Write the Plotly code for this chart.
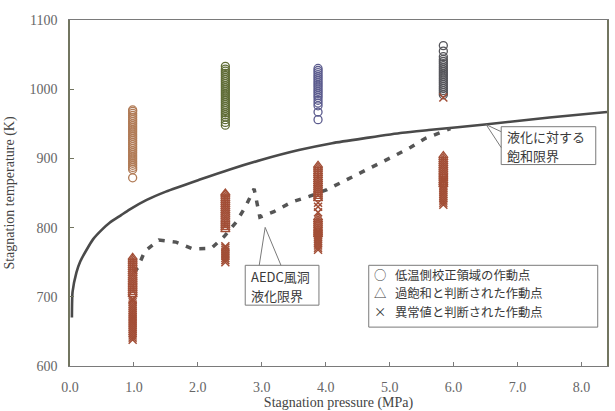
import plotly.graph_objects as go

# ---- data ---------------------------------------------------------------
# saturation limit against liquefaction (solid curve)
sat_p = [0.03, 0.04, 0.10, 0.16, 0.26, 0.36, 0.50, 0.62, 0.80, 0.93, 1.20,
         1.50, 2.02, 2.50, 3.00, 3.58, 4.10, 4.67, 5.20, 5.61, 6.49, 7.50, 8.40]
sat_t = [670, 707, 735, 751, 768, 783, 797, 807, 818, 826, 840,
         852, 869, 884, 898, 912, 922, 930, 937, 941, 949, 959, 967]

# AEDC wind tunnel liquefaction limit (dashed curve)
aedc_p = [1.00, 1.06, 1.17, 1.39, 1.66, 1.93, 2.21, 2.41, 2.60, 2.75, 2.88,
          2.92, 2.97, 3.19, 3.47, 3.74, 4.02, 4.28, 4.55, 4.80, 5.06, 5.33,
          5.56, 5.95]
aedc_t = [735, 742, 766, 782, 779, 769, 770, 787, 808, 831, 856,
          840, 815, 823, 837, 845, 855, 867, 880, 891, 903, 916,
          929, 943]

# stagnation pressure of each run group (MPa)
group_p = [0.98, 2.43, 3.88, 5.84]

# operating points in the low-temperature calibration region (K)
calib_t = [
    [872, 884, 887, 890, 893, 896, 899, 902, 905, 908, 911, 914, 917, 920,
     923, 926, 929, 932, 935, 938, 941, 944, 947, 950, 953, 956, 959, 962,
     965, 968, 970],
    [948, 952, 956, 960, 963, 966, 969, 972, 975, 978, 981, 984, 987, 990,
     993, 996, 999, 1002, 1005, 1008, 1011, 1014, 1017, 1020, 1023, 1026,
     1029, 1033],
    [956, 967, 976, 980, 984, 988, 991, 994, 997, 1000, 1003, 1006, 1009,
     1012, 1015, 1018, 1021, 1024, 1027, 1030],
    [992, 995, 998, 1001, 1004, 1007, 1010, 1013, 1016, 1019, 1022, 1025,
     1028, 1031, 1034, 1037, 1040, 1043, 1047, 1055, 1063],
]

# operating points judged supersaturated (K)
supersat_t = [
    [703, 706, 709, 712, 715, 718, 721, 724, 727, 730, 733, 736, 739, 742,
     745, 748, 751, 754, 757],
    [797, 800, 803, 806, 809, 812, 815, 818, 821, 824, 827, 830, 833, 836,
     839, 842, 845, 848, 850],
    [790, 793, 796, 799, 802, 805, 808, 811, 814, 842, 845, 848, 851, 854,
     857, 860, 863, 866, 869, 872, 875, 878, 881, 884, 887, 890],
    [862, 865, 868, 871, 874, 877, 880, 883, 886, 889, 892, 895, 898, 901,
     904],
]

# operating points judged abnormal (K)
outlier_t = [
    [638, 641, 644, 647, 650, 653, 656, 659, 662, 665, 668, 671, 674, 677,
     680, 683, 686, 689, 692, 695, 697],
    [750, 753, 756, 759, 762, 765, 768, 771, 773],
    [768, 771, 774, 777, 780, 783, 786, 789, 792, 795, 822, 830, 836],
    [833, 836, 839, 842, 845, 848, 851, 854, 857, 860, 864, 867, 870, 988],
]

legend_labels = ["低温側校正領域の作動点", "過飽和と判断された作動点",
                 "異常値と判断された作動点"]
legend_symbols = ["○", "△", "×"]
sat_label = ["液化に対する", "飽和限界"]
aedc_label = ["AEDC風洞", "液化限界"]

# ---- styling ------------------------------------------------------------
calib_colors = ["#b07a55", "#5f6c36", "#5c5c8e", "#55555a"]
brown = "#a24e36"
box_line = "#7a7a7a"
text_col = "#3a3a3a"
jp_font = "Noto Sans CJK JP"
serif = "Liberation Serif"

fig = go.Figure()

fig.add_trace(go.Scatter(
    x=sat_p, y=sat_t, mode="lines", line=dict(color="#4a4a4a", width=2.6,
                                              shape="spline", smoothing=0.6),
    hoverinfo="skip"))

fig.add_trace(go.Scatter(
    x=aedc_p, y=aedc_t, mode="lines",
    line=dict(color="#555555", width=3.5, dash="6px,8px"),
    hoverinfo="skip"))

for p, temps, col in zip(group_p, calib_t, calib_colors):
    fig.add_trace(go.Scatter(
        x=[p] * len(temps), y=temps, mode="markers",
        marker=dict(symbol="circle-open", size=8, color=col,
                    line=dict(width=1.3, color=col))))

for p, temps in zip(group_p, supersat_t):
    fig.add_trace(go.Scatter(
        x=[p] * len(temps), y=temps, mode="markers",
        marker=dict(symbol="triangle-up-open", size=8, color=brown,
                    line=dict(width=1.3, color=brown))))

for p, temps in zip(group_p, outlier_t):
    fig.add_trace(go.Scatter(
        x=[p] * len(temps), y=temps, mode="markers",
        marker=dict(symbol="x-thin-open", size=8, color=brown,
                    line=dict(width=1.5, color=brown))))

# ---- callout boxes -------------------------------------------------------
shapes = []
# saturation-limit label box with its pointer to the curve
shapes.append(dict(type="rect", xref="x", yref="y", x0=6.745, x1=8.224,
                   y0=891.1, y1=945.8, line=dict(color=box_line, width=1),
                   fillcolor="white", layer="above"))
shapes.append(dict(type="path", xref="x", yref="y",
                   path="M6.745,938.6 L6.511,948.7 L6.745,915.6",
                   line=dict(color=box_line, width=1), layer="above"))
# AEDC label box with its pointer to the dashed curve
shapes.append(dict(type="rect", xref="x", yref="y", x0=2.741, x1=3.894,
                   y0=687.9, y1=745.5, line=dict(color=box_line, width=1),
                   fillcolor="white", layer="above"))
shapes.append(dict(type="path", xref="x", yref="y",
                   path="M2.96,745.5 L3.053,800.3 L3.30,745.5",
                   line=dict(color=box_line, width=1), layer="above"))
# key box
shapes.append(dict(type="rect", xref="x", yref="y", x0=4.673, x1=8.255,
                   y0=656.2, y1=745.5, line=dict(color=box_line, width=1),
                   fillcolor="white", layer="above"))


def label(x, y, text, size, anchor="left"):
    return dict(x=x, y=y, xref="x", yref="y", xanchor=anchor,
                yanchor="middle", text=text, showarrow=False,
                font=dict(family=jp_font, size=size, color=text_col))


annotations = []
for txt, t in zip(sat_label, [932.1, 904.8]):
    annotations.append(label(6.80, t, txt, 13))
for txt, t in zip(aedc_label, [729.7, 702.3]):
    annotations.append(label(2.80, t, txt, 13))
for sym, lab, t in zip(legend_symbols, legend_labels, [731.1, 704.9, 678.7]):
    annotations.append(label(4.85, t, sym, 12.3, anchor="center"))
    annotations.append(label(5.06, t, lab, 12.3))

fig.update_layout(
    width=615, height=411,
    margin=dict(l=70, r=6, t=20, b=44),
    paper_bgcolor="white", plot_bgcolor="white",
    showlegend=False,
    shapes=shapes, annotations=annotations,
    xaxis=dict(range=[0, 8.4], dtick=1, tick0=0, tickformat=".1f",
               showgrid=False, zeroline=False,
               showline=True, linecolor="#7a7a7a", linewidth=1.3, mirror=True,
               ticks="inside", ticklen=4, tickcolor="#7a7a7a",
               ticklabelstandoff=8,
               tickfont=dict(family=serif, size=14, color="#666666"),
               title=dict(text="Stagnation pressure (MPa)", standoff=0,
                          font=dict(family=serif, size=14, color="#444444"))),
    yaxis=dict(range=[600, 1100], dtick=100, showgrid=False, zeroline=False,
               showline=True, linecolor="#727560", linewidth=1.5, mirror=True,
               ticks="inside", ticklen=4, tickcolor="#727560",
               ticklabelstandoff=8,
               tickfont=dict(family=serif, size=14, color="#666666"),
               title=dict(text="Stagnation temperature (K)", standoff=12,
                          font=dict(family=serif, size=14, color="#444444"))),
)

fig.write_html("out.html")
